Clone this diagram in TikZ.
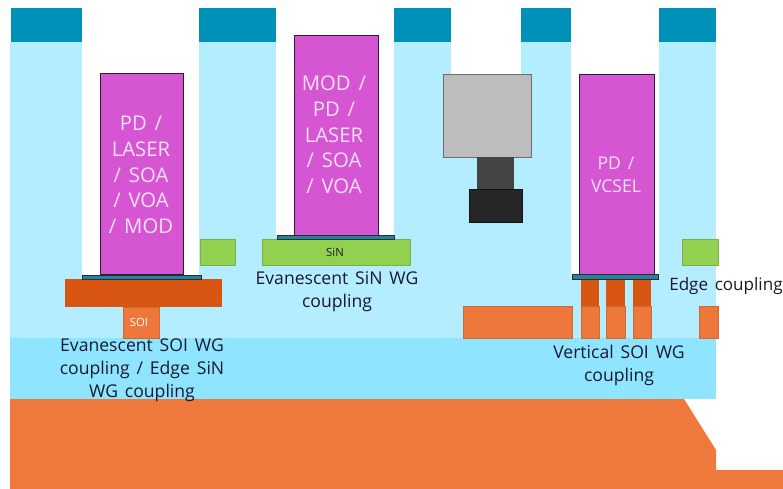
\documentclass[tikz,border=0pt]{standalone}
\usepackage{fontspec}
\setmainfont[WordSpace=1.5]{Open Sans}
\tikzset{
  upperclad/.style={fill={rgb, 255:red, 179; green, 237; blue, 255 }},
  lowerclad/.style={fill={rgb, 255:red, 143; green, 229; blue, 255 }},
  topmetal/.style={fill={rgb, 255:red, 0; green, 145; blue, 184 }},
  device/.style={draw={rgb, 255:red, 40; green, 30; blue, 50 },line width=0.75pt,fill={rgb, 255:red, 214; green, 85; blue, 211 }},
  padstrip/.style={draw={rgb, 255:red, 30; green, 50; blue, 60 },line width=0.75pt,fill={rgb, 255:red, 46; green, 127; blue, 150 }},
  siorange/.style={draw={rgb, 255:red, 205; green, 105; blue, 55 },line width=0.5pt,fill={rgb, 255:red, 238; green, 120; blue, 60 }},
  darkorange/.style={fill={rgb, 255:red, 216; green, 85; blue, 18 }},
  sinwg/.style={draw={rgb, 255:red, 125; green, 175; blue, 70 },line width=0.6pt,fill={rgb, 255:red, 146; green, 208; blue, 80 }},
  devlabel/.style={text={rgb, 255:red, 250; green, 225; blue, 250 },align=center,font=\fontsize{15.2}{19.3}\selectfont},
  caption/.style={text={rgb, 255:red, 25; green, 25; blue, 45 },align=center,font=\fontsize{13.2}{17.2}\selectfont},
  tinylabel/.style={font=\fontsize{8.5}{10}\selectfont},
}
\begin{document}
\begin{tikzpicture}[x=0.75pt,y=0.75pt,yscale=-1,xscale=1]
        \useasboundingbox (0,0) rectangle (783,489);

        %Shape: Polygon
        \fill [fill={rgb, 255:red, 239; green, 120; blue, 60 }] (10,399) -- (684,399) -- (716,450) -- (716,470) -- (783,470) -- (783,489) -- (10,489) -- cycle ;
        %Shape: Rectangle
        \fill [lowerclad] (10,338) rectangle (716,399) ;
        %Shape: Rectangle
        \fill [upperclad] (10,42) rectangle (716,338) ;
        %Shape: Rectangle
        \fill [topmetal] (11,8) rectangle (82,42) ;
        \fill [topmetal] (199,8) rectangle (276,42) ;
        \fill [topmetal] (394,8) rectangle (451,42) ;
        \fill [topmetal] (521,8) rectangle (571,42) ;
        \fill [topmetal] (659,8) rectangle (716,42) ;
        %Trenches
        \fill [white] (82,8) rectangle (199,275) ;
        \fill [white] (276,8) rectangle (394,236) ;
        \fill [white] (451,8) rectangle (521,80) ;
        \fill [white] (571,8) rectangle (659,275) ;

        %Shape: Rectangle
        \draw [sinwg] (200,239) rectangle (235,265) ;
        \draw [sinwg] (262,239) rectangle (410,265) ;
        \draw [sinwg] (682,239) rectangle (718,265) ;

        %Shape: Rectangle
        \fill [darkorange] (65,279) rectangle (222,307) ;
        \draw [siorange] (123,307) rectangle (159,338) ;
        \draw [siorange] (463,306) rectangle (572,338) ;
        \draw [siorange] (581,306) rectangle (599,338) ;
        \draw [siorange] (606,306) rectangle (625,338) ;
        \draw [siorange] (633,306) rectangle (651,338) ;
        \draw [siorange] (699,306) rectangle (718,338) ;
        \fill [darkorange] (581,279) rectangle (599,306) ;
        \fill [darkorange] (606,279) rectangle (625,306) ;
        \fill [darkorange] (633,279) rectangle (651,306) ;

        %Shape: Rectangle
        \draw [device] (100,73) rectangle (183,274) ;
        \draw [device] (294,35) rectangle (378,235) ;
        \draw [device] (579,74) rectangle (654,274) ;
        \draw [padstrip] (82,275) rectangle (201,279) ;
        \draw [padstrip] (277,235) rectangle (394,239) ;
        \draw [padstrip] (572,274) rectangle (658,279) ;

        %Shape: Rectangle
        \draw [draw={rgb, 255:red, 110; green, 110; blue, 110 },fill={rgb, 255:red, 189; green, 189; blue, 189 },line width=0.75pt] (443,74) rectangle (531,157) ;
        \fill [fill={rgb, 255:red, 68; green, 68; blue, 68 }] (477,157) rectangle (514,189) ;
        \draw [draw={rgb, 255:red, 20; green, 20; blue, 20 },fill={rgb, 255:red, 38; green, 38; blue, 38 },line width=0.5pt] (469,189) rectangle (522,222) ;

        %Text
        \node [devlabel] (pdleft) at (141,175) {PD /\\LASER\\/ SOA\\/ VOA\\/ MOD};
        \node [devlabel] (modmid) at (334,135) {MOD /\\PD /\\LASER\\/ SOA\\/ VOA};
        \node [devlabel,font=\fontsize{13.2}{17.6}\selectfont] (pdright) at (616,175) {PD /\\VCSEL};
        \node [tinylabel,text=white] (soilabel) at (139,322) {SOI};
        \node [tinylabel,text={rgb, 255:red, 25; green, 25; blue, 45 }] (sinlabel) at (335,252) {SiN};
        \node [caption] (capsoi) at (142,370) {Evanescent SOI WG\\coupling / Edge SiN\\WG coupling};
        \node [caption] (capsin) at (337,292) {Evanescent SiN WG\\coupling};
        \node [caption] (capvert) at (619,365) {Vertical SOI WG\\coupling};
        \node [caption,font=\fontsize{12.8}{17.2}\selectfont,anchor=west,inner sep=0pt] (capedge) at (669,286) {Edge coupling};
\end{tikzpicture}
\end{document}
